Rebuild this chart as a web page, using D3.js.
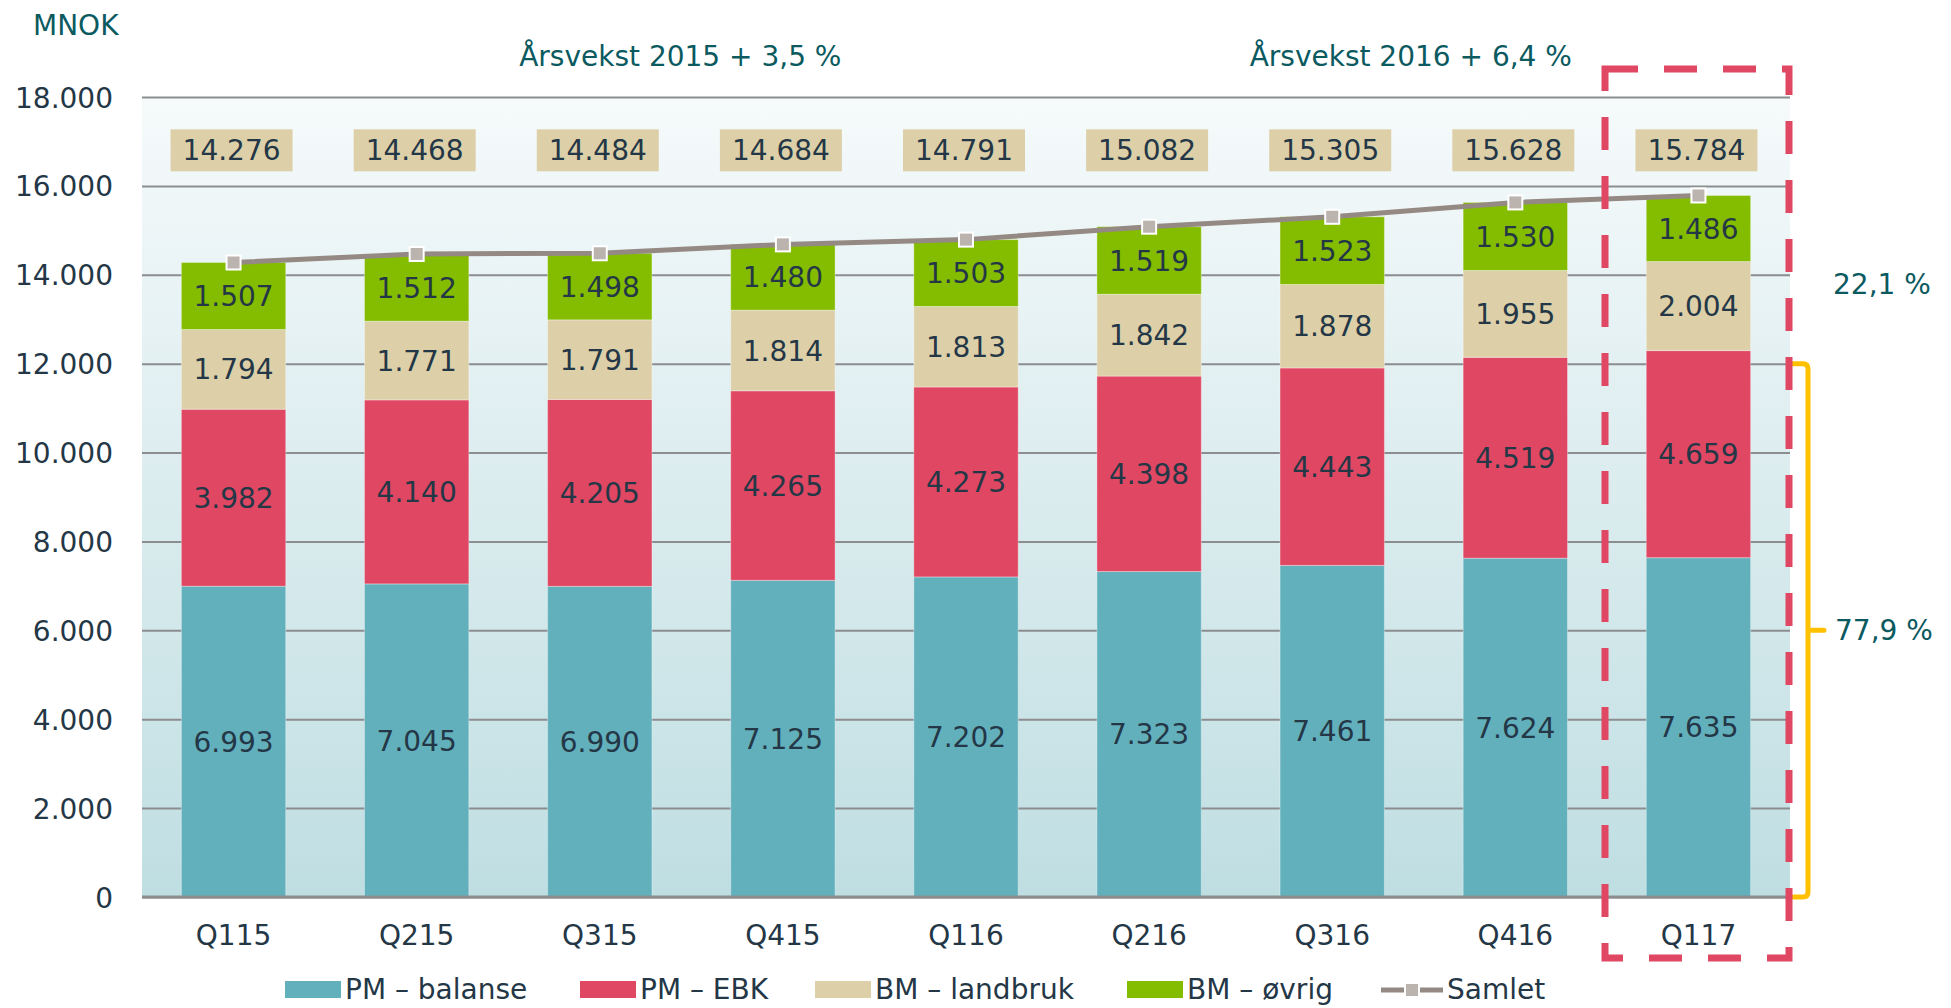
<!DOCTYPE html>
<html>
<head>
<meta charset="utf-8">
<title>Utlån MNOK</title>
<script src="https://cdn.jsdelivr.net/npm/d3@7"></script>
<style>
  body { margin: 0; background: #fff; }
  svg text { font-family: "DejaVu Sans", Verdana, sans-serif; }
</style>
</head>
<body>
<div id="container"></div>
<script>
// data
var quarters   = ['Q115', 'Q215', 'Q315', 'Q415', 'Q116', 'Q216', 'Q316', 'Q416', 'Q117'];
var pmBalanse  = [6993, 7045, 6990, 7125, 7202, 7323, 7461, 7624, 7635];
var pmEbk      = [3982, 4140, 4205, 4265, 4273, 4398, 4443, 4519, 4659];
var bmLandbruk = [1794, 1771, 1791, 1814, 1813, 1842, 1878, 1955, 2004];
var bmOvrig    = [1507, 1512, 1498, 1480, 1503, 1519, 1523, 1530, 1486];
var samlet     = [14276, 14468, 14484, 14684, 14791, 15082, 15305, 15628, 15784];
var seriesNames = ['PM – balanse', 'PM – EBK', 'BM – landbruk', 'BM – øvrig'];
var yTicks = [0, 2000, 4000, 6000, 8000, 10000, 12000, 14000, 16000, 18000];

var colors = ['#63b0bd', '#e04762', '#ddd0a8', '#84bc00'];
var line_color = '#958a83';
var text_color = '#243746';
var teal_text  = '#0b5a5f';

const WIDTH = 1951, HEIGHT = 1008;
const LEFT = 142, RIGHT = 1790, TOP = 97, BOTTOM = 897;

var nok = d3.formatLocale({decimal: ',', thousands: '.', grouping: [3], currency: ['', ' kr']}).format(',d');

var svg = d3.select('#container').append('svg')
    .attr('width', WIDTH)
    .attr('height', HEIGHT);

var xscale = d3.scaleBand()
    .domain(quarters)
    .range([LEFT, RIGHT])
    .paddingInner(0.43)
    .paddingOuter(0.215);

var yscale = d3.scaleLinear()
    .domain([0, 18000])
    .range([BOTTOM, TOP]);

// background gradient
var defs = svg.append('defs');
var grad = defs.append('linearGradient').attr('id', 'bg').attr('x1', 0).attr('y1', 0).attr('x2', 0).attr('y2', 1);
grad.append('stop').attr('offset', '0%').attr('stop-color', '#f6fafb');
grad.append('stop').attr('offset', '100%').attr('stop-color', '#bfdee2');

svg.append('rect')
    .attr('x', LEFT).attr('y', TOP)
    .attr('width', RIGHT - LEFT).attr('height', BOTTOM - TOP)
    .style('fill', 'url(#bg)');

// y axis with gridlines
var y_axis = d3.axisLeft(yscale)
    .tickValues(yTicks)
    .tickSize(-(RIGHT - LEFT))
    .tickPadding(29)
    .tickFormat(function(d) { return d === 0 ? '0' : nok(d); });

var gy = svg.append('g')
    .attr('class', 'y-axis')
    .attr('transform', 'translate(' + LEFT + ',0)')
    .call(y_axis);
gy.select('.domain').remove();
gy.selectAll('line').style('stroke', '#8b8d8f').style('stroke-width', 2);
gy.selectAll('text').style('font-size', '28px').style('fill', text_color).attr('dy', '0.36em');

// stacked bars
var table = quarters.map(function(q, i) {
    return {q: q, s0: pmBalanse[i], s1: pmEbk[i], s2: bmLandbruk[i], s3: bmOvrig[i]};
});
var stack = d3.stack().keys(['s0', 's1', 's2', 's3'])(table);

stack.forEach(function(layer, li) {
    var g = svg.append('g').attr('class', 'layer-' + li);
    g.selectAll('rect')
        .data(layer)
        .enter().append('rect')
        .attr('x', function(d) { return xscale(d.data.q); })
        .attr('y', function(d) { return yscale(d[1]); })
        .attr('width', xscale.bandwidth())
        .attr('height', function(d) { return yscale(d[0]) - yscale(d[1]); })
        .style('fill', colors[li])
        .style('stroke', 'rgba(255,255,255,0.35)')
        .style('stroke-width', 1);
    g.selectAll('text')
        .data(layer)
        .enter().append('text')
        .attr('x', function(d) { return xscale(d.data.q) + xscale.bandwidth() / 2; })
        .attr('y', function(d) { return (yscale(d[0]) + yscale(d[1])) / 2; })
        .attr('dy', '0.36em')
        .attr('text-anchor', 'middle')
        .style('font-size', '28px')
        .style('fill', text_color)
        .text(function(d) { return nok(d[1] - d[0]); });
});

// x axis
var x_axis = d3.axisBottom(xscale).tickSize(0).tickPadding(28);
var gx = svg.append('g')
    .attr('class', 'x-axis')
    .attr('transform', 'translate(0,' + BOTTOM + ')')
    .call(x_axis);
gx.select('.domain').attr('d', 'M' + LEFT + ',0H' + RIGHT).style('stroke', '#8b8d8f').style('stroke-width', 3);
gx.selectAll('text').style('font-size', '28px').style('fill', text_color);

// samlet line
var cx = function(i) { return xscale(quarters[i]) + xscale.bandwidth() / 2; };
var line = d3.line()
    .x(function(d, i) { return cx(i); })
    .y(function(d) { return yscale(d); });
svg.append('path')
    .datum(samlet)
    .attr('d', line)
    .style('fill', 'none')
    .style('stroke', line_color)
    .style('stroke-width', 5);
svg.selectAll('.marker')
    .data(samlet)
    .enter().append('rect')
    .attr('class', 'marker')
    .attr('x', function(d, i) { return cx(i) - 7; })
    .attr('y', function(d) { return yscale(d) - 7; })
    .attr('width', 14).attr('height', 14)
    .style('fill', '#bab3ae')
    .style('stroke', '#fff')
    .style('stroke-width', 2);

// total labels in boxes
var labelY = yscale(16800);
var totals = svg.selectAll('.total')
    .data(samlet)
    .enter().append('g')
    .attr('class', 'total');
totals.append('rect')
    .attr('x', function(d, i) { return cx(i) - 63; })
    .attr('y', labelY - 21)
    .attr('width', 122).attr('height', 42)
    .style('fill', '#ddd0a8');
totals.append('text')
    .attr('x', function(d, i) { return cx(i) - 2; })
    .attr('y', labelY)
    .attr('dy', '0.36em')
    .attr('text-anchor', 'middle')
    .style('font-size', '28px')
    .style('fill', text_color)
    .text(function(d) { return nok(d); });

// annotations
svg.append('text').attr('x', 33).attr('y', 35)
    .style('font-size', '28px').style('fill', teal_text).text('MNOK');
svg.append('text').attr('x', (cx(2) + cx(3)) / 2 - 11).attr('y', 66)
    .attr('text-anchor', 'middle')
    .style('font-size', '28px').style('fill', teal_text).text('Årsvekst 2015 + 3,5 %');
svg.append('text').attr('x', (cx(6) + cx(7)) / 2 - 13).attr('y', 66)
    .attr('text-anchor', 'middle')
    .style('font-size', '28px').style('fill', teal_text).text('Årsvekst 2016 + 6,4 %');
svg.append('text').attr('x', 1833).attr('y', yscale(13800) + 10)
    .style('font-size', '28px').style('fill', teal_text).text('22,1 %');
svg.append('text').attr('x', 1835).attr('y', yscale(6000) + 10)
    .style('font-size', '28px').style('fill', teal_text).text('77,9 %');

// bracket for PM share
var bTop = yscale(12000), bBot = yscale(0), bMid = yscale(6000), bx = 1808;
svg.append('path')
    .attr('d', 'M1793,' + bTop + 'H' + (bx - 5) + 'Q' + bx + ',' + bTop + ' ' + bx + ',' + (bTop + 5) +
               'V' + (bBot - 5) + 'Q' + bx + ',' + bBot + ' ' + (bx - 5) + ',' + bBot + 'H1793' +
               'M' + bx + ',' + bMid + 'H1824')
    .style('fill', 'none')
    .style('stroke', '#ffc000')
    .style('stroke-width', 5)
    .style('stroke-linecap', 'round');

// dashed highlight of last quarter
svg.append('rect')
    .attr('x', 1605).attr('y', 69)
    .attr('width', 184).attr('height', 889)
    .style('fill', 'none')
    .style('stroke', '#e04762')
    .style('stroke-width', 7)
    .style('stroke-dasharray', '33,26');

// legend
var legendItems = [
    {name: seriesNames[0], x: 285, color: colors[0]},
    {name: seriesNames[1], x: 580, color: colors[1]},
    {name: seriesNames[2], x: 815, color: colors[2]},
    {name: seriesNames[3], x: 1127, color: colors[3]}
];
var lg = svg.append('g').attr('class', 'legend');
legendItems.forEach(function(it) {
    lg.append('rect').attr('x', it.x).attr('y', 981).attr('width', 56).attr('height', 17).style('fill', it.color);
    lg.append('text').attr('x', it.x + 60).attr('y', 999)
        .style('font-size', '28px').style('fill', text_color).text(it.name);
});
lg.append('line').attr('x1', 1381).attr('x2', 1443).attr('y1', 990).attr('y2', 990)
    .style('stroke', line_color).style('stroke-width', 5);
lg.append('rect').attr('x', 1405).attr('y', 983).attr('width', 14).attr('height', 14)
    .style('fill', '#bab3ae').style('stroke', '#fff').style('stroke-width', 2);
lg.append('text').attr('x', 1447).attr('y', 999)
    .style('font-size', '28px').style('fill', text_color).text('Samlet');
</script>
</body>
</html>
